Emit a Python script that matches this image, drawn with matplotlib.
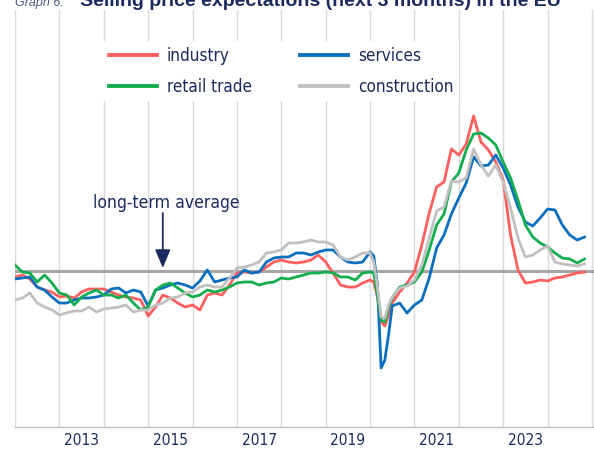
import matplotlib
matplotlib.use("Agg")
import matplotlib.pyplot as plt
from matplotlib.font_manager import fontManager, FontProperties

# ---------------- data ----------------
# months since January 2012 (bimonthly readings, monthly around the 2020 drop)
months = list(range(0, 96, 2)) + [96, 97, 98, 99, 100, 101, 102] + list(range(104, 155, 2))

# deviation from the long-term average (balance points)
industry = [-1.5, -1.0, -2.0, -4.0, -4.75, -5.25, -6.5, -6.25, -6.75, -5.25, -4.5, -4.5, -4.5,
            -5.25, -6.0, -6.5, -6.75, -7.25, -11.25, -9.0, -6.0, -6.75, -8.0, -9.0, -8.5,
            -9.75, -6.0, -5.5, -6.0, -3.5, -0.5, -0.25, -0.5, -0.25, 1.0, 2.25, 2.75, 2.25,
            2.0, 2.25, 2.75, 4.0, 2.25, -0.5, -3.5, -4.0, -4.0, -3.0,
            -2.25, -2.75, -6.5, -12.75, -13.75, -11.0, -8.0,
            -5.25, -3.0, -0.25, 6.5, 14.5, 21.0, 22.25, 30.5, 29.0, 31.75, 38.75, 32.25, 30.25,
            27.25, 22.75, 9.0, 0.25, -3.0, -2.75, -2.25, -2.5, -1.75, -1.5, -1.0, -0.5, -0.25]
services = [-2.0, -1.75, -1.5, -4.0, -4.75, -6.5, -8.0, -8.0, -7.25, -6.75, -6.75, -6.5, -6.0,
            -4.5, -4.25, -5.5, -4.75, -5.25, -8.75, -4.75, -4.25, -3.5, -3.0, -3.5, -4.25,
            -2.5, 0.25, -2.75, -2.25, -1.75, -1.5, 0.25, -0.5, -0.25, 2.25, 3.25, 3.5, 3.5,
            4.5, 4.5, 4.0, 4.75, 5.25, 5.25, 3.5, 2.25, 2.0, 2.25,
            4.75, 3.75, -3.5, -24.25, -22.25, -16.0, -8.75,
            -8.0, -10.5, -8.5, -7.25, -1.75, 5.75, 9.0, 14.25, 18.25, 22.0, 28.5, 26.25, 26.5,
            29.0, 25.75, 21.5, 16.0, 12.25, 11.25, 13.25, 15.5, 15.25, 11.5, 9.0, 7.75, 8.5]
retail = [1.5, -0.25, -0.5, -2.75, -1.0, -3.0, -5.5, -6.0, -8.5, -6.5, -5.5, -4.75, -6.0,
          -6.0, -6.75, -6.0, -8.0, -9.75, -9.0, -4.75, -3.5, -3.0, -4.25, -5.5, -6.5,
          -6.0, -4.75, -5.25, -4.75, -4.0, -3.0, -2.75, -2.75, -3.5, -3.0, -2.75, -1.75, -2.0,
          -1.5, -1.0, -0.5, -0.5, -0.25, -0.5, -1.5, -1.5, -2.25, -0.5,
          -0.25, -0.5, -6.0, -12.25, -12.75, -9.25, -6.75,
          -4.0, -3.5, -2.75, -0.25, 5.25, 11.5, 14.25, 22.25, 24.5, 30.25, 34.25, 34.5, 33.25,
          31.5, 27.25, 23.25, 17.75, 11.5, 8.5, 7.0, 6.0, 4.5, 3.25, 3.0, 2.0, 3.0]
construction = [-7.25, -6.75, -5.5, -8.0, -9.0, -9.75, -11.0, -10.5, -10.0, -10.0, -9.0, -10.25, -9.5,
                -9.25, -9.0, -8.5, -10.25, -9.75, -9.75, -8.5, -8.0, -6.75, -6.5, -5.5, -5.25,
                -4.0, -3.5, -4.0, -4.0, -1.75, 0.75, 1.0, 1.5, 2.25, 4.5, 4.75, 5.25, 7.0,
                7.0, 7.25, 7.75, 7.25, 7.25, 6.5, 3.5, 2.75, 3.5, 4.5,
                4.5, 2.25, -4.0, -11.5, -11.75, -8.5, -6.5,
                -4.25, -3.75, -2.25, 1.5, 8.25, 15.0, 16.0, 22.5, 22.25, 23.25, 30.5, 26.5, 23.75,
                26.5, 22.25, 15.75, 8.25, 3.5, 4.0, 5.25, 6.25, 2.25, 1.75, 1.5, 1.25, 1.75]

series_labels = ["industry", "services", "retail trade", "construction"]
series_colors = ["#ff5f5f", "#0b6fc0", "#12ad4d", "#c0c0c0"]
label_years = [2013, 2015, 2017, 2019, 2021, 2023]
grid_years = list(range(2012, 2026))
title_lead = "Graph 6:"
title_main = "Selling price expectations (next 3 months) in the EU"
avg_label = "long-term average"

navy = "#1b2a5e"
DPI = 100

# ---------------- fonts: prefer a narrow sans ----------------
def find_narrow():
    best = None
    for f in fontManager.ttflist:
        fn = f.fname.lower()
        base = fn.rsplit("/", 1)[-1]
        if not ("narrow" in base or "condensed" in base):
            continue
        bad = ["bold", "italic", "oblique", "mono", "serif", "light", "thin", "semi",
               "extra", "medium", "black", "ultra", "cond-", "ita"]
        if any(b in base for b in bad):
            continue
        rank = 0 if "liberationsansnarrow" in base else (1 if "notosans" in base else 2)
        if best is None or rank < best[0]:
            best = (rank, f.fname)
    return best[1] if best else None

narrow_path = find_narrow()

def base_fp():
    if narrow_path:
        return FontProperties(fname=narrow_path)
    return FontProperties(family=["Liberation Sans", "DejaVu Sans"])

fig = plt.figure(figsize=(5.94, 4.51), dpi=DPI)
renderer = fig.canvas.get_renderer()

def fp_for_width(text, target_px, max_pt):
    fp = base_fp()
    fp.set_size(10)
    w, h, d = renderer.get_text_width_height_descent(text, fp, ismath=False)
    size = min(max_pt, 10 * target_px / w)
    fp.set_size(size)
    return fp

def text_w(text, fp):
    return renderer.get_text_width_height_descent(text, fp, ismath=False)[0]

fp_leg = fp_for_width("construction", 95, 15.5)
fp_tick = fp_for_width("2013", 35, 13.5)
fp_ann = fp_for_width(avg_label, 147, 16)

# ---------------- axes ----------------
ax = fig.add_axes([15 / 594, 24 / 451, 579 / 594, 417 / 451])
t = [2012 + m / 12 for m in months]

for yr in grid_years:
    ax.axvline(yr, color="#d9d9d9", lw=1.0, zorder=0)
ax.axhline(0, color="#a6a6a6", lw=2.2, zorder=1)

handles = []
for vals, lab, col in zip([industry, services, retail, construction], series_labels, series_colors):
    h, = ax.plot(t, vals, color=col, lw=2.0, label=lab, zorder=2, solid_joinstyle="round")
    handles.append(h)

ax.set_xlim(2012, 2012 + 579 / 44.38)
ax.set_ylim(-39, 65.25)

for s in ["top", "right", "left"]:
    ax.spines[s].set_visible(False)
ax.spines["bottom"].set_color("#bfbfbf")
ax.spines["bottom"].set_linewidth(1.0)
ax.set_yticks([])
ax.set_xticks([y + 0.5 for y in label_years])
ax.set_xticklabels([str(y) for y in label_years])
for lab in ax.get_xticklabels():
    lab.set_fontproperties(fp_tick)
    lab.set_color(navy)
ax.tick_params(axis="x", length=0, pad=4)

# ---------------- legend (2 x 2, row-wise order) ----------------
s_px = fp_leg.get_size() * DPI / 72
w_col1 = max(text_w("industry", fp_leg), text_w("retail trade", fp_leg))
colspace = max(0.2, (301 - 168 - w_col1) / s_px)
leg_top = 55 - 0.5 * s_px - 0.35 * s_px
leg = ax.legend(handles=[handles[0], handles[2], handles[1], handles[3]],
                labels=[series_labels[0], series_labels[2], series_labels[1], series_labels[3]],
                ncol=2, loc="upper left",
                bbox_to_anchor=(103 / 594, 1 - leg_top / 451), bbox_transform=fig.transFigure,
                borderaxespad=0, frameon=True, fancybox=False, framealpha=1,
                handlelength=48 / s_px, handletextpad=10 / s_px, columnspacing=colspace,
                labelspacing=max(0.1, 30 / s_px - 1.0), borderpad=0.35,
                prop=fp_leg)
leg.get_frame().set_edgecolor("none")
leg.get_frame().set_facecolor("white")
for txt in leg.get_texts():
    txt.set_color(navy)
for lh in leg.get_lines():
    lh.set_linewidth(2.8)

# ---------------- long-term average annotation ----------------
ax.text(2015.40, 17.0, avg_label, ha="center", va="center", color=navy,
        fontproperties=fp_ann)
ax.annotate("", xy=(2015.33, 0.75), xytext=(2015.33, 14.5),
            arrowprops=dict(arrowstyle="-|>,head_length=0.62,head_width=0.26",
                            color=navy, lw=1.3, shrinkA=0, shrinkB=0, mutation_scale=18))

# ---------------- clipped title ----------------
fig.text(15 / 594, 1 - 6 / 451, title_lead, fontsize=9, style="italic", color="#4d5b80",
         va="baseline", family="Liberation Sans")
fig.text(80 / 594, 1 - 6 / 451, title_main,
         fontsize=14, fontweight="bold", color=navy, va="baseline", family="Liberation Sans")

fig.savefig("out.png", dpi=DPI)
